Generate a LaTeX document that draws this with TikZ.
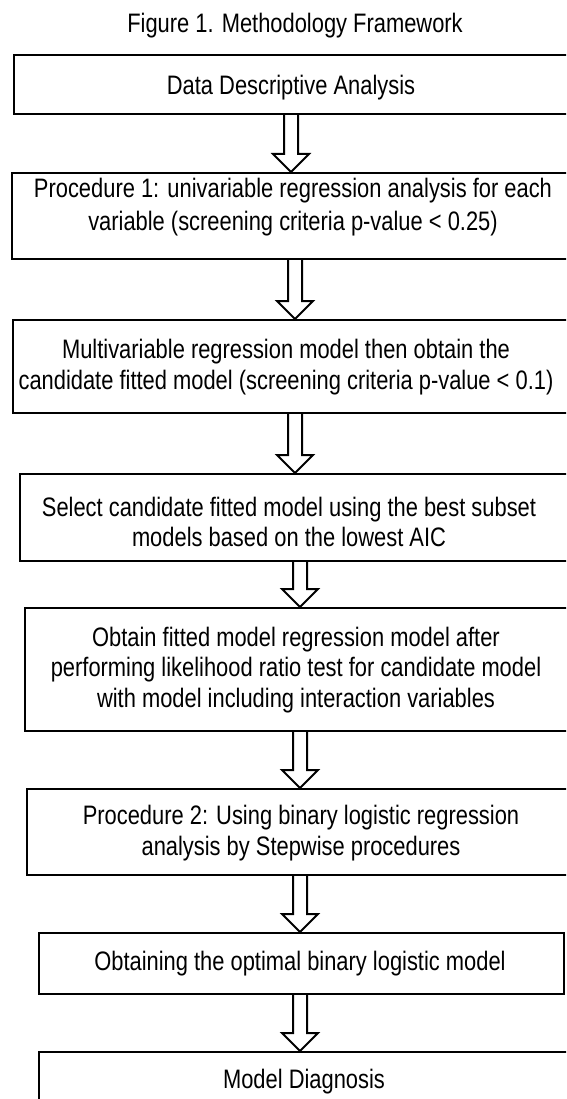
\documentclass[tikz,border=0pt]{standalone}
\usepackage{fontspec}
\setmainfont{Liberation Sans}[FakeStretch=0.82]
\usetikzlibrary{calc}

\tikzset{
  framebox/.style={draw=black, line width=2pt, rectangle, inner sep=0pt, anchor=north west},
  caption/.style={inner sep=0pt, align=center, text=black, font=\fontsize{26.7}{30.5}\selectfont},
  hollowarrow/.style={draw=black, line width=2pt, line join=miter},
}

% hollow block arrow from the bottom of box #1 to the top of box #2, centred at x = #3
\newcommand\hollowdown[3]{%
  \draw[hollowarrow] let \p1=(#1.south), \p2=(#2.north) in
    (#3pt-7pt,\y1) -- (#3pt-7pt,\y2+18pt) -- (#3pt-18pt,\y2+18pt) -- (#3pt,\y2)
    -- (#3pt+18pt,\y2+18pt) -- (#3pt+7pt,\y2+18pt) -- (#3pt+7pt,\y1);}

\begin{document}
\begin{tikzpicture}[x=1pt, y=-1pt]
  \useasboundingbox (0,0) rectangle (566,1099);
  \fill[white] (0,0) rectangle (566,1099);
  \clip (0,0) rectangle (566,1099);

  % title
  \node[caption] (title) at (295,26) {Figure 1. Methodology Framework};

  % process boxes
  \node[framebox, minimum width=587pt, minimum height=59pt]  (b1) at (13,54)  {};
  \node[framebox, minimum width=589pt, minimum height=86pt]  (b2) at (11,172) {};
  \node[framebox, minimum width=588pt, minimum height=93pt]  (b3) at (12,319) {};
  \node[framebox, minimum width=581pt, minimum height=87pt]  (b4) at (19,473) {};
  \node[framebox, minimum width=576pt, minimum height=123pt] (b5) at (24,607) {};
  \node[framebox, minimum width=574pt, minimum height=86pt]  (b6) at (26,788) {};
  \node[framebox, minimum width=525pt, minimum height=61pt]  (b7) at (38,932) {};
  \node[framebox, minimum width=562pt, minimum height=80pt]  (b8) at (38,1051) {};

  % box texts
  \node[caption] (t1) at (291,88) {Data Descriptive Analysis};
  \node[caption] (t2) at (293,207) {Procedure 1: univariable regression analysis for each\\[2pt]variable (screening criteria p-value < 0.25)};
  \node[caption] (t3) at (286,367) {Multivariable regression model then obtain the\\candidate fitted model (screening criteria p-value < 0.1)};
  \node[caption] (t4) at (289,522) {Select candidate fitted model using the best subset\\models based on the lowest AIC};
  \node[caption] (t5) at (296,670) {Obtain fitted model regression model after\\performing likelihood ratio test for candidate model\\with model including interaction variables};
  \node[caption] (t6) at (301,833) {Procedure 2: Using binary logistic regression\\analysis by Stepwise procedures};
  \node[caption] (t7) at (300,964) {Obtaining the optimal binary logistic model};
  \node[caption] (t8) at (304,1082) {Model Diagnosis};

  % connecting arrows
  \hollowdown{b1}{b2}{291}
  \hollowdown{b2}{b3}{295}
  \hollowdown{b3}{b4}{295}
  \hollowdown{b4}{b5}{300}
  \hollowdown{b5}{b6}{300}
  \hollowdown{b6}{b7}{300}
  \hollowdown{b7}{b8}{300}
\end{tikzpicture}
\end{document}
